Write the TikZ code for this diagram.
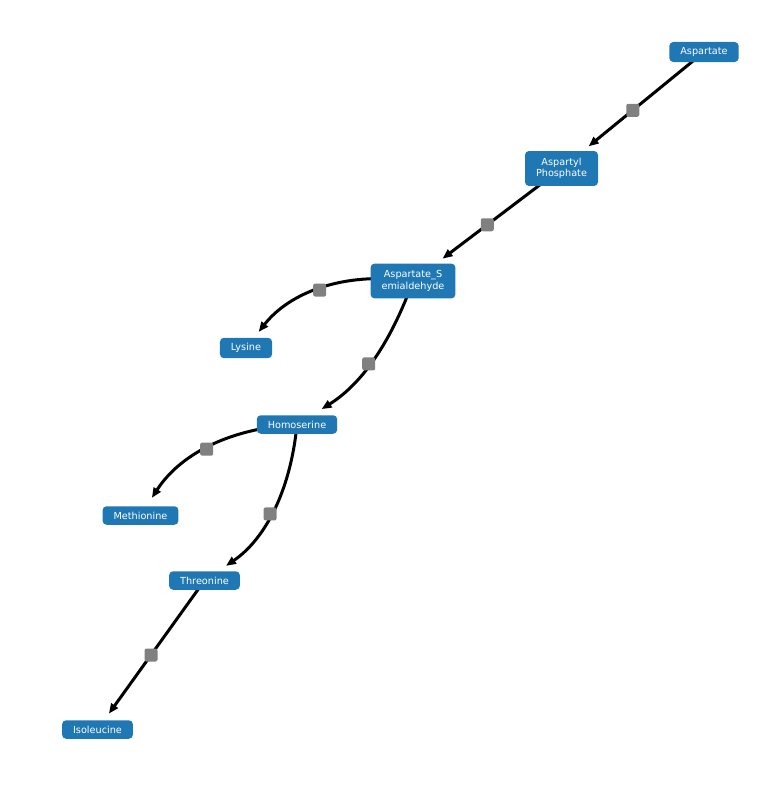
\documentclass[tikz,border=0pt]{standalone}
\usepackage{fontspec}
\setmainfont{DejaVu Sans}
\usetikzlibrary{arrows.meta}
\definecolor{nodeblue}{HTML}{1F77B4}
\definecolor{rxngray}{HTML}{808080}
\pgfdeclarelayer{edges}
\pgfsetlayers{edges,main}
\begin{document}
\begin{tikzpicture}[x=1pt,y=1pt,
  met/.style={fill=nodeblue,text=white,rounded corners=4pt,align=center,
    font=\fontsize{9.7}{11.6}\selectfont,inner xsep=11pt,inner ysep=5.5pt},
  met2/.style={met,inner ysep=7pt},
  rxn/.style={fill=rxngray,rounded corners=2pt,minimum size=13pt,inner sep=0pt},
  flux/.style={line width=3pt,-{Stealth[length=10pt,width=8pt,inset=0pt]}}]
\useasboundingbox (0,0) rectangle (766,-800);
\node[met] (asp) at (704,-52) {Aspartate};
\node[met2] (asph) at (561.5,-168.5) {Aspartyl\\Phosphate};
\node[met2] (asa) at (413,-281) {Aspartate\_S\\emialdehyde};
\node[met] (lys) at (246,-348) {Lysine};
\node[met] (hse) at (297,-424.5) {Homoserine};
\node[met] (met) at (140.5,-515.5) {Methionine};
\node[met] (thr) at (204.5,-580.5) {Threonine};
\node[met] (ile) at (97.5,-729.5) {Isoleucine};
\begin{pgfonlayer}{edges}
\draw[flux,shorten >=35pt] (asp.center) -- node[rxn] (r1) {} (asph.center);
\draw[flux,shorten >=37pt] (asph.center) -- node[rxn] (r2) {} (asa.center);
\draw[flux,shorten >=20.5pt] (asa.center) to[bend right=30] node[rxn] (r3) {} (lys.center);
\draw[flux,shorten >=29pt] (asa.center) to[bend left=19] node[rxn] (r4) {} (hse.center);
\draw[flux,shorten >=21pt] (hse.center) to[bend right=27] node[rxn] (r5) {} (met.center);
\draw[flux,shorten >=26pt] (hse.center) to[bend left=25] node[rxn] (r6) {} (thr.center);
\draw[flux,shorten >=19.5pt] (thr.center) -- node[rxn] (r7) {} (ile.center);
\end{pgfonlayer}
\end{tikzpicture}
\end{document}
